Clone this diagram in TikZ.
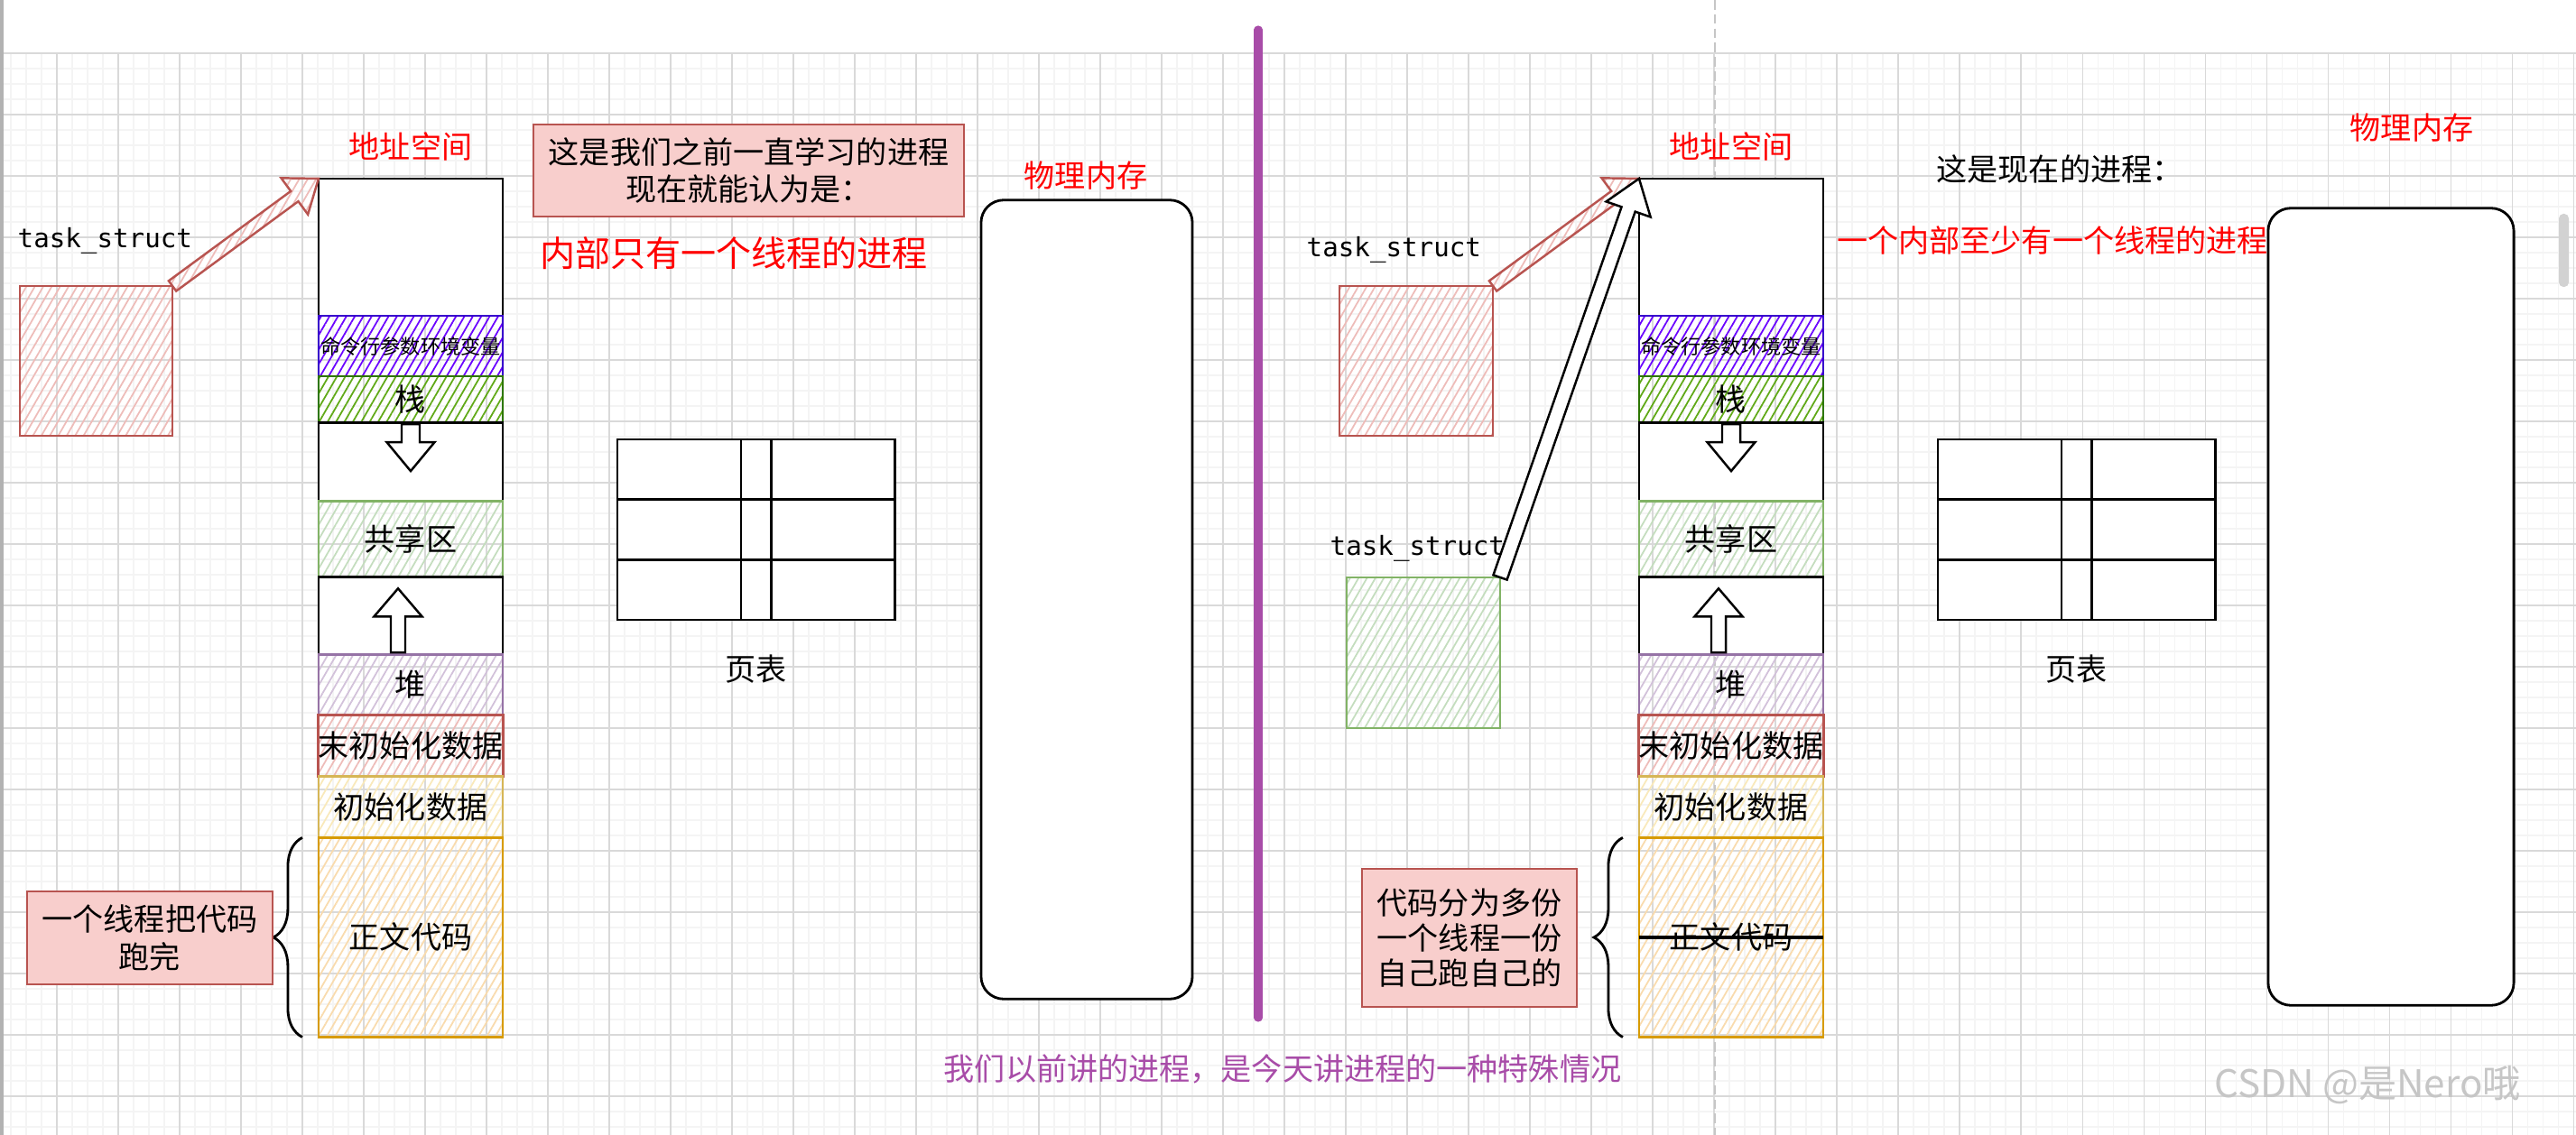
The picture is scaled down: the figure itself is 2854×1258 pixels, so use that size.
\documentclass[tikz,border=0pt]{standalone}
\usepackage{fontspec}
\setmainfont{Noto Sans CJK SC}
\newfontfamily\handfont{DejaVu Sans Mono}
\usetikzlibrary{positioning,calc,patterns.meta,decorations.pathreplacing}

\definecolor{tsfill}{HTML}{F8CECC}
\definecolor{tsline}{HTML}{B85450}
\definecolor{argfill}{HTML}{6A00FF}
\definecolor{argline}{HTML}{3700CC}
\definecolor{stkfill}{HTML}{60A917}
\definecolor{stkline}{HTML}{2D7600}
\definecolor{shfill}{HTML}{D5E8D4}
\definecolor{shline}{HTML}{82B366}
\definecolor{hpfill}{HTML}{E1D5E7}
\definecolor{hpline}{HTML}{9673A6}
\definecolor{datfill}{HTML}{FFF2CC}
\definecolor{datline}{HTML}{D6B656}
\definecolor{txtfill}{HTML}{FFE6CC}
\definecolor{txtline}{HTML}{D79B00}
\definecolor{divpurple}{RGB}{168,76,168}

\newcommand{\cnfont}{\fontsize{9.7}{11.7}\selectfont}

% block arrow: style, tail, tip, half shaft, half head, head length
\newcommand{\blockarrow}[6]{%
  \coordinate (ba-h) at ($(#3)!#6!(#2)$);
  \draw[#1] ($(#2)!#4!90:(#3)$) -- ($(ba-h)!#4!90:(#3)$) -- ($(ba-h)!#5!90:(#3)$)
    -- (#3) -- ($(ba-h)!#5!-90:(#3)$) -- ($(ba-h)!#4!-90:(#3)$)
    -- ($(#2)!#4!-90:(#3)$) -- cycle;
}

\tikzset{
  gridminor/.style={gray!9, line width=0.3pt},
  gridmajor/.style={gray!30, line width=0.3pt},
  hatchbox/.style 2 args={pattern={Lines[angle=60,distance=2.3pt,line width=0.5pt]},
    pattern color=#1, draw=#2},
  seg/.style={draw, line width=0.8pt, minimum width=2.04cm, inner sep=0pt,
    outer sep=0pt, font=\cnfont},
  cnlabel/.style={inner sep=0pt, font=\cnfont},
  note/.style={draw=tsline, fill=tsfill, line width=0.6pt, inner sep=0pt,
    align=center, font=\cnfont},
  handlabel/.style={inner sep=0pt, anchor=base west, font=\handfont\fontsize{8.3}{10}\selectfont},
}

\begin{document}
\begin{tikzpicture}[x=0.01cm, y=-0.01cm,
  redarrow/.style={hatchbox={tsfill!85!tsline}{tsline}, line width=0.7pt},
  wharrow/.style={draw=black, fill=white, line width=0.7pt}]
  \useasboundingbox (0,0) rectangle (2854,1258);
  \fill[white] (0,0) rectangle (2854,1258);

  % Background grid
  \foreach \gx in {12,29,...,2854} \draw[gridminor] (\gx,59) -- (\gx,1258);
  \foreach \gy in {59,76,...,1258} \draw[gridminor] (0,\gy) -- (2854,\gy);
  \foreach \gx in {63,131,...,2854} \draw[gridmajor] (\gx,59) -- (\gx,1258);
  \foreach \gy in {59,127,...,1258} \draw[gridmajor] (0,\gy) -- (2854,\gy);
  \draw[gray!60, line width=1pt] (2,0) -- (2,1258);
  \draw[gray!45, dash pattern=on 3pt off 1.5pt, line width=0.5pt] (1900,0) -- (1900,1258);
  \fill[gray!35, rounded corners=0.05cm] (2835,237) rectangle (2846,318);

  % Address spaces and page tables (left, right)
  \foreach \side/\xo in {1/0, 2/1463} {
    \node[seg, fill=white, minimum height=1.52cm] (as\side) at (455+\xo,274) {};
    \node[seg, hatchbox={argfill}{argline}, minimum height=0.67cm,
      font=\fontsize{6.3}{7}\selectfont, below=0pt of as\side] (arg\side) {命令行参数环境变量};
    \node[seg, hatchbox={stkfill}{stkline}, minimum height=0.51cm, below=0pt of arg\side] (stk\side) {栈};
    \node[seg, fill=white, minimum height=0.87cm, below=0pt of stk\side] (gpa\side) {};
    \node[seg, hatchbox={shfill!80!shline}{shline}, minimum height=0.84cm, below=0pt of gpa\side] (sh\side) {共享区};
    \node[seg, fill=white, minimum height=0.86cm, below=0pt of sh\side] (gpb\side) {};
    \node[seg, hatchbox={hpfill!80!hpline}{hpline}, minimum height=0.67cm, below=0pt of gpb\side] (hp\side) {堆};
    \node[seg, hatchbox={tsfill!85!tsline}{tsline}, minimum height=0.68cm, below=0pt of hp\side] (bss\side) {末初始化数据};
    \node[seg, hatchbox={datfill!85!datline}{datline}, minimum height=0.68cm, below=0pt of bss\side] (dat\side) {初始化数据};
    \node[seg, hatchbox={txtfill!85!txtline}{txtline}, minimum height=2.21cm, below=0pt of dat\side] (txt\side) {正文代码};
    \node[cnlabel, text=red, above=0.19cm of as\side] (asl\side) {地址空间};

    % stack grows down, heap grows up
    \coordinate (dtop\side) at ($(gpa\side.north)+(0,2)$);
    \coordinate (dtip\side) at ($(gpa\side.north)+(0,54)$);
    \blockarrow{wharrow}{dtop\side}{dtip\side}{0.10cm}{0.265cm}{0.32cm}
    \coordinate (ubot\side) at ($(gpb\side.south)+(-14,-2)$);
    \coordinate (utip\side) at ($(gpb\side.south)+(-14,-73)$);
    \blockarrow{wharrow}{ubot\side}{utip\side}{0.08cm}{0.265cm}{0.31cm}

    % brace beside the code
    \draw[decorate, decoration={brace, amplitude=0.32cm}, line width=0.8pt]
      ($(txt\side.south west)+(-18,0)$) -- ($(txt\side.north west)+(-18,0)$);

    % page table
    \node[draw, line width=0.8pt, minimum width=3.07cm, minimum height=2cm,
      inner sep=0pt, outer sep=0pt, fill=white] (pt\side) at (837.5+\xo,587) {};
    \foreach \f in {0.333,0.667}
      \draw[line width=0.8pt] ($(pt\side.north west)!\f!(pt\side.south west)$)
        -- ($(pt\side.north east)!\f!(pt\side.south east)$);
    \foreach \f in {0.446,0.554}
      \draw[line width=0.8pt] ($(pt\side.north west)!\f!(pt\side.north east)$)
        -- ($(pt\side.south west)!\f!(pt\side.south east)$);
    \node[cnlabel, below=0.38cm of pt\side] (ptl\side) {页表};
  }

  % task_struct boxes
  \node[hatchbox={tsfill!85!tsline}{tsline}, line width=0.8pt, minimum width=1.69cm,
    minimum height=1.66cm, inner sep=0pt, outer sep=0pt] (ts1) at (106.5,400) {};
  \node[hatchbox={tsfill!85!tsline}{tsline}, line width=0.8pt, minimum width=1.70cm,
    minimum height=1.66cm, inner sep=0pt, outer sep=0pt] (ts2) at (1569,400) {};
  \node[hatchbox={shfill!80!shline}{shline}, line width=0.8pt, minimum width=1.70cm,
    minimum height=1.67cm, inner sep=0pt, outer sep=0pt] (ts3) at (1577,723.5) {};
  \node[handlabel] (tsl1) at (19,275) {task\_struct};
  \node[handlabel] (tsl2) at (1447,285) {task\_struct};
  \node[handlabel] (tsl3) at (1473,615) {task\_struct};

  % Pointers to the address spaces
  \blockarrow{redarrow}{ts1.north east}{as1.north west}{0.07cm}{0.25cm}{0.33cm}
  \blockarrow{redarrow}{ts2.north east}{as2.north west}{0.07cm}{0.25cm}{0.33cm}
  \blockarrow{wharrow}{ts3.north east}{as2.north west}{0.08cm}{0.26cm}{0.36cm}

  % Physical memory
  \node[draw, line width=0.8pt, rounded corners=0.25cm, fill=white, minimum width=2.34cm,
    minimum height=8.85cm] (mem1) at (1204,664.5) {};
  \node[draw, line width=0.8pt, rounded corners=0.25cm, fill=white, minimum width=2.72cm,
    minimum height=8.83cm] (mem2) at (2649,672.5) {};
  \node[cnlabel, text=red] (meml1) at (1203,195) {物理内存};
  \node[cnlabel, text=red] (meml2) at (2672,142) {物理内存};

  % Notes
  \node[note, minimum width=4.77cm, minimum height=1.02cm] (note1) at (829.5,189)
    {这是我们之前一直学习的进程\\现在就能认为是：};
  \node[cnlabel, text=red, font=\fontsize{11.1}{13}\selectfont] (one1) at (813,281) {内部只有一个线程的进程};
  \node[cnlabel] (now2) at (2282,187) {这是现在的进程：};
  \node[cnlabel, text=red] (many2) at (2274,267) {一个内部至少有一个线程的进程};
  \node[note, minimum width=2.72cm, minimum height=1.03cm] (note2) at (166,1039.5)
    {一个线程把代码\\跑完};
  \node[note, minimum width=2.38cm, minimum height=1.53cm, font=\fontsize{9.7}{11}\selectfont]
    (note3) at (1628,1039.5) {代码分为多份\\一个线程一份\\自己跑自己的};
  \draw[line width=1.2pt] (txt2.west) -- (txt2.east);

  % Divider and summary
  \draw[divpurple, line width=2.6pt, line cap=round] (1394,33) -- (1394,1128);
  \node[cnlabel, text=divpurple] (summary) at (1421,1185)
    {我们以前讲的进程，是今天讲进程的一种特殊情况};
  \node[cnlabel, text=gray!45, font=\fontsize{12}{14}\selectfont] (wm) at (2623,1203) {CSDN @是Nero哦};
\end{tikzpicture}
\end{document}
